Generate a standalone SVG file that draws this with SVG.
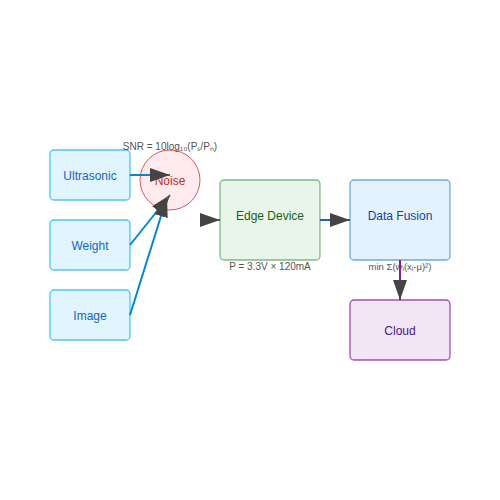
<svg xmlns="http://www.w3.org/2000/svg" width="500" height="500" viewBox="0 0 500 500">
<style>
text{font-family:"Liberation Sans",Arial,sans-serif;text-anchor:middle}
.lbl{font-size:12px}
.note{font-size:10px;fill:#555}
.sensor rect{fill:#e1f5fe;stroke:#4fc3f7;stroke-width:1.3}
.sensor text{fill:#1565c0}
.conn{fill:none;stroke-width:2;marker-end:url(#arr)}
</style>
<defs>
<marker id="arr" markerWidth="10" markerHeight="7" refX="10" refY="3.5" orient="auto" markerUnits="strokeWidth">
<path d="M0,0 L10,3.5 L0,7 Z" fill="#444"/>
</marker>
</defs>
<rect width="500" height="500" fill="#fff"/>
<g id="ultrasonic" class="sensor"><rect x="50" y="150" width="80" height="50" rx="4"/><text class="lbl" x="90" y="180">Ultrasonic</text></g>
<g id="weight" class="sensor"><rect x="50" y="220" width="80" height="50" rx="4"/><text class="lbl" x="90" y="250">Weight</text></g>
<g id="image" class="sensor"><rect x="50" y="290" width="80" height="50" rx="4"/><text class="lbl" x="90" y="320">Image</text></g>
<g id="noise"><circle cx="170" cy="180" r="30" fill="#ffebee" stroke="#d32f2f" stroke-opacity="0.8" stroke-width="1"/><text class="lbl" x="170" y="185" fill="#c62828">Noise</text></g>
<g id="edge"><rect x="220" y="180" width="100" height="80" rx="4" fill="#e8f5e9" stroke="#388e3c" stroke-opacity="0.6" stroke-width="1.3"/><text class="lbl" x="270" y="220" fill="#1b5e20">Edge Device</text></g>
<g id="fusion"><rect x="350" y="180" width="100" height="80" rx="4" fill="#e3f2fd" stroke="#1976d2" stroke-opacity="0.6" stroke-width="1.3"/><text class="lbl" x="400" y="220" fill="#0d47a1">Data Fusion</text></g>
<g id="cloud"><rect x="350" y="300" width="100" height="60" rx="4" fill="#f3e5f5" stroke="#8e24aa" stroke-opacity="0.8" stroke-width="1.3"/><text class="lbl" x="400" y="335" fill="#4a148c">Cloud</text></g>
<g id="connectors">
<line class="conn" x1="130" y1="175" x2="170" y2="175" stroke="#0288d1"/>
<line class="conn" x1="130" y1="245" x2="170" y2="195" stroke="#0288d1"/>
<line class="conn" x1="130" y1="315" x2="167" y2="197" stroke="#0288d1"/>
<line class="conn" x1="200" y1="220" x2="220" y2="220" stroke="#2e7d32"/>
<line class="conn" x1="320" y1="220" x2="350" y2="220" stroke="#1565c0"/>
<line class="conn" x1="400" y1="260" x2="400" y2="300" stroke="#7b1fa2"/>
</g>
<g id="labels">
<text class="note" x="170" y="150">SNR = 10log₁₀(Pₛ/Pₙ)</text>
<text class="note" x="270" y="270">P = 3.3V × 120mA</text>
<text class="note" x="400" y="270" style="font-size:9.5px">min Σ(wᵢ(xᵢ-μ)²)</text>
</g>
</svg>
